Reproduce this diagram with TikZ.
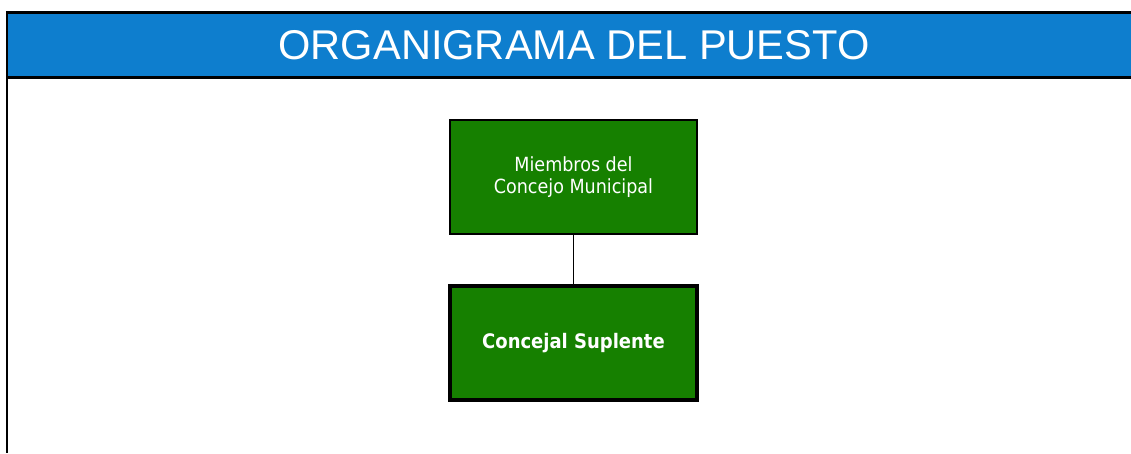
\documentclass[tikz,border=0pt]{standalone}
\usepackage{fontspec}
\setmainfont{Liberation Sans}
\newfontfamily\boxfont{DejaVu Sans Condensed}
\usepackage{tikz}
\usetikzlibrary{positioning, calc}

\definecolor{headblue}{RGB}{14,126,206}
\definecolor{boxgreen}{RGB}{22,128,0}

\begin{document}
\begin{tikzpicture}[x=1pt, y=-1pt,
    puesto/.style={draw=black, fill=boxgreen, text=white, align=center,
      font=\boxfont\fontsize{19.5}{22}\selectfont, inner sep=0pt},
    ]
					%%
\useasboundingbox (0,0) rectangle (1131,453);
\coordinate (tl) at (7,12.5);
\coordinate (tr) at (1131,12.5);
\coordinate (hl) at (7,77.5);
\coordinate (hr) at (1131,77.5);
\coordinate (bl) at (7,453);

\fill[headblue] (tl) rectangle (hr);
\draw[line width=2.5pt] (tr) -- (tl) -- (bl);
\draw[line width=2.5pt] (hl) -- (hr);

\node[text=white, font=\fontsize{41.6}{46}\selectfont] (titulo) at (574,45) {ORGANIGRAMA DEL PUESTO};

\node[puesto, line width=1.5pt, minimum width=247pt, minimum height=114pt] (miembros) at (573.5,177)
  {Miembros del\\Concejo Municipal};
\node[puesto, line width=4.5pt, minimum width=247pt, minimum height=114pt,
  font=\boxfont\bfseries\fontsize{20}{22}\selectfont] (suplente) at (573.5,343)
  {Concejal Suplente};

\draw[line width=1.5pt] (miembros) -- (suplente);
				\end{tikzpicture}
\end{document}
